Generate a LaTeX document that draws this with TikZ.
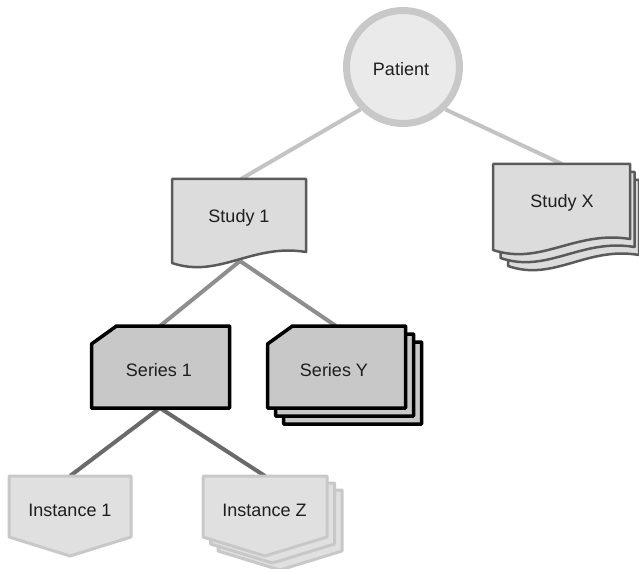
\documentclass[tikz,border=0pt]{standalone}
\usepackage{fontspec}
\setmainfont{Liberation Sans}
\usetikzlibrary{backgrounds}
\begin{document}
\definecolor{patientfill}{HTML}{EAEAEA}
\definecolor{patientline}{HTML}{C8C8C8}
\definecolor{studyfill}{HTML}{DCDCDC}
\definecolor{studyline}{HTML}{5A5A5A}
\definecolor{seriesfill}{HTML}{C8C8C8}
\definecolor{instfill}{HTML}{E0E0E0}
\definecolor{instline}{HTML}{C8C8C8}
\definecolor{linktop}{HTML}{C3C3C3}
\definecolor{linkmid}{HTML}{8E8E8E}
\definecolor{linkbot}{HTML}{6A6A6A}
\definecolor{labeltext}{HTML}{1E1E1E}
% document page with a wavy lower edge: #1,#2 top-left corner, #3 width, #4 left height
\newcommand\docpath[4]{(#1,#2) -- ({#1+#3},#2) -- ({#1+#3},{#2+#4-11})
  .. controls ({#1+0.6*#3},{#2+#4-20}) and ({#1+0.35*#3},{#2+#4+16}) .. (#1,{#2+#4}) -- cycle}
% card with a clipped upper-left corner
\newcommand\cardpath[4]{(#1,{#2+18}) -- ({#1+25},#2) -- ({#1+#3},#2) -- ({#1+#3},{#2+#4}) -- (#1,{#2+#4}) -- cycle}
% pentagon pointing down
\newcommand\pentpath[3]{(#1,#2) -- ({#1+#3},#2) -- ({#1+#3},{#2+61}) -- ({#1+0.5*#3},{#2+80}) -- (#1,{#2+61}) -- cycle}
\begin{tikzpicture}[x=1pt,y=-1pt,
  lbl/.style={font=\fontsize{18}{20}\selectfont, text=labeltext, anchor=base, inner sep=0pt},
  studybox/.style={fill=studyfill, draw=studyline, line width=2.5pt, line join=round},
  seriesbox/.style={fill=seriesfill, draw=black, line width=3.5pt, line join=round},
  instbox/.style={fill=instfill, draw=instline, line width=3pt, line join=round},
  link/.style={line width=4pt},
  patientnode/.style={circle, fill=patientfill, draw=patientline, line width=7pt,
    minimum size=113pt, inner sep=0pt}]
\useasboundingbox (0,0) rectangle (639,569);

% anchor points for the connectors
\coordinate (study1-top) at (241,179);
\coordinate (study1-bot) at (240,261);
\coordinate (studyx-top) at (562,164);
\coordinate (series1-top) at (160,326);
\coordinate (series1-bot) at (160,408);
\coordinate (seriesy-top) at (336,326);
\coordinate (inst1-top) at (70,476);
\coordinate (instz-top) at (265,476);

\node[patientnode] (patient) at (403,67) {};
\node[lbl] (patientlbl) at (401,76) {Patient};

% connectors, beneath the shapes
\begin{scope}[on background layer]
\draw[link, linktop] (patient.225) -- (study1-top);
\draw[link, linktop] (patient.315) -- (studyx-top);
\draw[link, linkmid] (study1-bot) -- (series1-top);
\draw[link, linkmid] (study1-bot) -- (seriesy-top);
\draw[link, linkbot] (series1-bot) -- (inst1-top);
\draw[link, linkbot] (series1-bot) -- (instz-top);
\end{scope}

% studies
\draw[studybox] \docpath{172}{179}{134}{84};
\node[lbl] (study1) at (239,222.5) {Study 1};

\draw[studybox] \docpath{508}{180}{131}{86};
\draw[studybox] \docpath{500.5}{172}{134}{86};
\draw[studybox] \docpath{493}{164}{137}{86};
\node[lbl] (studyx) at (562,207.5) {Study X};

% series
\draw[seriesbox] \cardpath{91.5}{326}{138}{82};
\node[lbl] (series1) at (159,376) {Series 1};

\draw[seriesbox] \cardpath{283.5}{342}{138}{82};
\draw[seriesbox] \cardpath{275.5}{334}{138}{82};
\draw[seriesbox] \cardpath{267.5}{326}{138}{82};
\node[lbl] (seriesy) at (334,376) {Series Y};

% instances
\draw[instbox] \pentpath{9}{476}{122};
\node[lbl] (inst1) at (70,516) {Instance 1};

\draw[instbox] \pentpath{218}{490}{124};
\draw[instbox] \pentpath{210.5}{483}{124};
\draw[instbox] \pentpath{203}{476}{124};
\node[lbl] (instz) at (264.5,516) {Instance Z};
\end{tikzpicture}
\end{document}
